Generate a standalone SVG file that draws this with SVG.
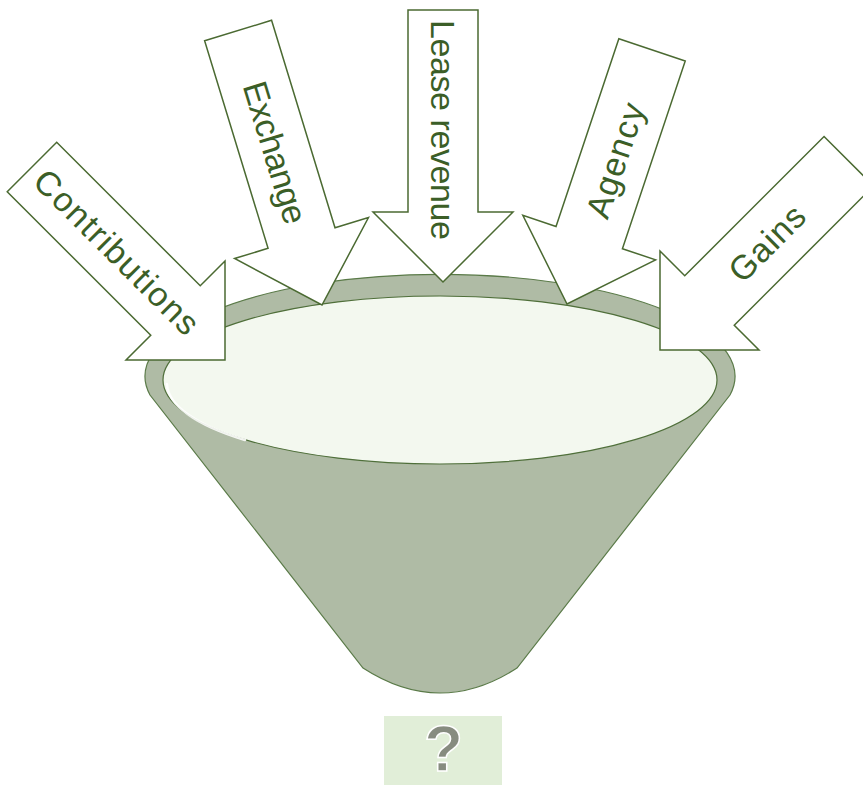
<svg xmlns="http://www.w3.org/2000/svg" width="863" height="785" viewBox="0 0 863 785">
<style>
.arrow{fill:#ffffff;stroke:#4b6a32;stroke-width:1.5;stroke-linejoin:miter}
.lbl{font-family:"Liberation Sans",Arial,sans-serif;font-size:34px;fill:#3b5e27;text-anchor:middle}
</style>
<rect width="863" height="785" fill="#ffffff"/>
<g id="funnel">
<path d="M150,395 A295 102 0 1 1 730,395 L517,668 Q440,718 363,668 Z" fill="#afbba5" stroke="#5a7a48" stroke-width="1.2"/>
<ellipse cx="440" cy="380" rx="277" ry="84" fill="#f3f8ef" stroke="#4f6f3a" stroke-width="1.2"/>
<path d="M167,384 A273 81 0 0 0 245,440" fill="none" stroke="#ffffff" stroke-width="2.5" stroke-linecap="round" opacity="0.9"/>
</g>
<g id="connectors">
<g id="contributions" transform="translate(225,360) rotate(-45)">
<polygon class="arrow" points="-35,-273 35,-273 35,-70 70,-70 0,0 -70,-70 -35,-70"/>
<text class="lbl" transform="translate(0,-153) rotate(90)" y="12" textLength="218">Contributions</text>
</g>
<g id="exchange" transform="translate(322,305) rotate(-17)">
<polygon class="arrow" points="-35,-287 35,-287 35,-70 70,-70 0,0 -70,-70 -35,-70"/>
<text class="lbl" transform="translate(0,-159.5) rotate(90)" y="12" textLength="147">Exchange</text>
</g>
<g id="lease" transform="translate(443,282)">
<polygon class="arrow" points="-35,-272 35,-272 35,-70 70,-70 0,0 -70,-70 -35,-70"/>
<text class="lbl" transform="translate(0,-152) rotate(90)" y="12" textLength="220">Lease revenue</text>
</g>
<g id="agency" transform="translate(567,304) rotate(18.5)">
<polygon class="arrow" points="-35,-268 35,-268 35,-70 70,-70 0,0 -70,-70 -35,-70"/>
<text class="lbl" transform="translate(0,-151.5) rotate(-90)" y="12" textLength="119">Agency</text>
</g>
<g id="gains" transform="translate(660,350) rotate(45)">
<polygon class="arrow" points="-35,-267 35,-267 35,-70 70,-70 0,0 -70,-70 -35,-70"/>
<text class="lbl" transform="translate(0,-151) rotate(-90)" y="12" textLength="93">Gains</text>
</g>
</g>
<g id="result">
<rect x="384" y="716" width="118" height="69" fill="#e1eed8"/>
<text x="443.5" y="771" font-family="Liberation Sans,Arial,sans-serif" font-size="64" font-weight="bold" fill="#878c80" stroke="#ffffff" stroke-width="1.5" text-anchor="middle">?</text>
</g>
</svg>
